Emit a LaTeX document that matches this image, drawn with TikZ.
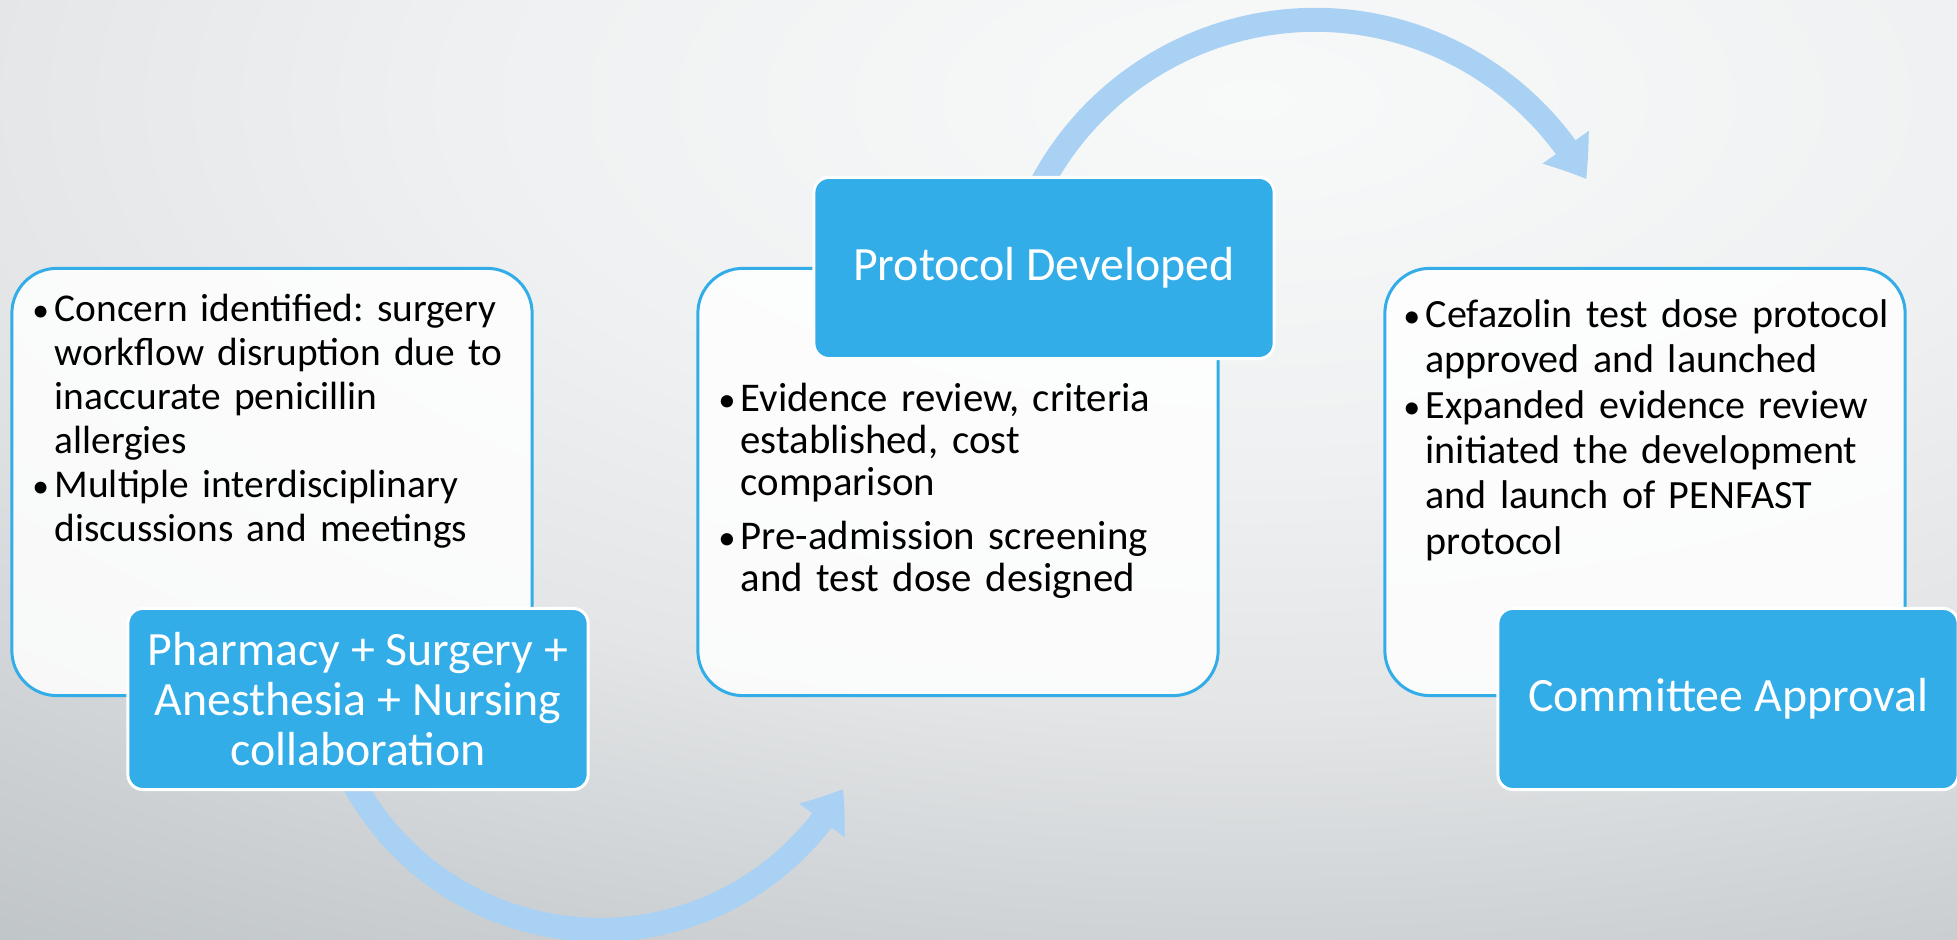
\documentclass[tikz,border=0pt]{standalone}
\usepackage{fontspec}
\setmainfont{Carlito}
\usetikzlibrary{positioning,arrows.meta,bending}

\definecolor{stepblue}{RGB}{50,173,232}
\definecolor{arrowblue}{RGB}{169,209,244}
\definecolor{bgA}{HTML}{F8F9F9}
\definecolor{bgB}{HTML}{EFF0F1}
\definecolor{bgC}{HTML}{E3E5E6}
\definecolor{bgD}{HTML}{CDD1D4}
\definecolor{bgE}{HTML}{C0C5C8}

\pgfdeclareradialshading{slidebg}{\pgfpoint{0bp}{0bp}}{color(0bp)=(bgA); color(9bp)=(bgB); color(15bp)=(bgC); color(21bp)=(bgD); color(25bp)=(bgE); color(50bp)=(bgE)}

\newcommand{\bul}[1]{\par\noindent\hangindent=5.1pt\hangafter=1%
  \makebox[5.1pt][l]{\hspace{-1.2pt}\scalebox{0.85}{\textbullet}}#1\par}

\tikzset{
  bodybox/.style={draw=stepblue, line width=0.03cm, fill=white, fill opacity=0.85,
    rounded corners=0.45cm, minimum width=5.2cm, minimum height=4.27cm, inner sep=0pt},
  headbox/.style={draw=white, line width=0.03cm, fill=stepblue, rounded corners=0.15cm,
    minimum width=4.6cm, minimum height=1.81cm, inner sep=0pt, text=white, align=center,
    font=\fontsize{13.6}{14.3}\selectfont},
  bullets/.style 2 args={anchor=base west, text width=5cm, align=left, inner sep=0pt,
    font=\frenchspacing\fontsize{#1}{#2}\selectfont, text=black},
  flow/.style={arrowblue, line width=0.24cm, -{Triangle[length=0.38cm, width=0.54cm, bend]}}
}

\begin{document}
\begin{tikzpicture}[x=0.01cm, y=0.01cm]
\useasboundingbox (0,0) rectangle (1957,940);

% background
\begin{scope}
\clip (0,0) rectangle (1957,940);
\shade[shading=slidebg] (1250,840) ellipse [x radius=22cm, y radius=10.2cm];
\end{scope}

% curved arrows
\coordinate (lowstart) at (346,172);
\coordinate (highstart) at (1034,741);
\draw[flow] (lowstart) arc[start angle=205, end angle=330.2, radius=2.8cm];
\draw[flow] (highstart) arc[start angle=155, end angle=29.1, radius=3.1cm];

% white boxes
\node[bodybox] (body1) at (272,458) {};
\node[bodybox] (body2) at (958,458) {};
\node[bodybox] (body3) at (1645,458) {};

% blue boxes
\node[headbox] (head1) at (358,241) {Pharmacy + Surgery +\\Anesthesia + Nursing\\collaboration};
\node[headbox] (head2) at (1044,672) {Protocol Developed};
\begin{scope}
\clip (0,0) rectangle (1957,940);
\node[headbox] (head3) at (1728,241) {Committee Approval};
\end{scope}

% bullet texts
\node[bullets={11.2pt}{12.5pt}] (list1) at (36,662) {%
  \bul{Concern identified: surgery\newline workflow disruption due to\newline inaccurate penicillin\newline allergies}
  \bul{Multiple interdisciplinary\newline discussions and meetings}};
\node[bullets={11.6pt}{12pt}] (list2) at (722,571) {%
  \bul{Evidence review, criteria\newline established, cost\newline comparison}
  \vspace{3.4pt}
  \bul{Pre-admission screening\newline and test dose designed}};
\node[bullets={11.4pt}{12.9pt}] (list3) at (1407,658) {%
  \bul{Cefazolin test dose protocol\newline approved and launched}
  \bul{Expanded evidence review\newline initiated the development\newline and launch of PENFAST\newline protocol}};

\end{tikzpicture}
\end{document}
